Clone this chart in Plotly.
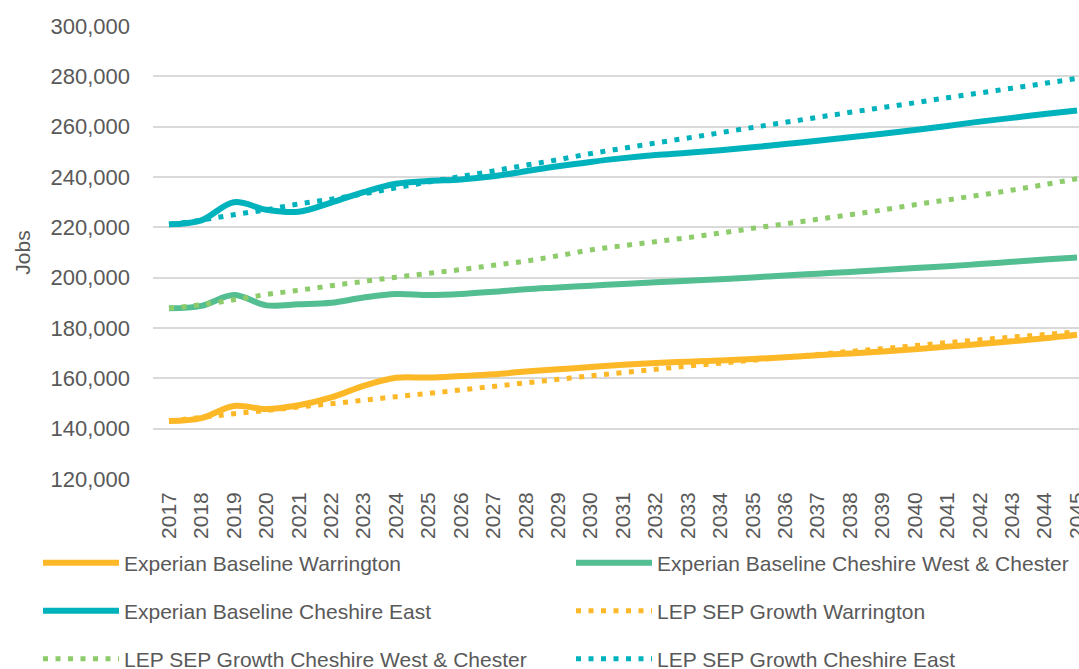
import plotly.graph_objects as go

years = list(range(2017, 2046))
year_labels = [str(y) for y in years]

eb_warrington = [143000, 144200, 149000, 147800, 149300, 152400, 157000, 160200, 160300, 160900,
                 161600, 162700, 163600, 164500, 165400, 166100, 166600, 167100, 167700, 168400,
                 169200, 169900, 170700, 171600, 172600, 173600, 174700, 175900, 177300]
eb_cwc = [187800, 188800, 193100, 189000, 189400, 190000, 192100, 193500, 193100, 193500,
          194400, 195400, 196100, 196800, 197500, 198200, 198800, 199400, 200100, 200900,
          201600, 202300, 203000, 203800, 204500, 205400, 206300, 207200, 208000]
eb_ce = [221200, 222800, 230000, 227000, 226200, 229800, 234000, 237300, 238400, 239000,
         240300, 242300, 244300, 246000, 247500, 248700, 249600, 250600, 251800, 253100,
         254400, 255800, 257200, 258700, 260300, 262000, 263500, 265000, 266400]
lep_warrington = [143000, 144500, 145900, 147200, 148600, 149900, 151300, 152700, 154000, 155400,
                  156800, 158200, 159600, 161000, 162300, 163600, 164900, 166000, 167200, 168400,
                  169500, 170700, 171800, 173000, 174200, 175300, 176400, 177400, 178400]
lep_cwc = [187800, 189300, 191200, 193300, 195000, 196800, 198500, 200200, 201700, 203200,
           204900, 206600, 208700, 211000, 212700, 214300, 215900, 217700, 219600, 221400,
           223200, 225000, 226900, 229000, 230900, 232800, 234800, 237000, 239300]
lep_ce = [221000, 222900, 225000, 227000, 229300, 231200, 233300, 235700, 238000, 240200,
          242400, 244700, 246900, 249300, 251400, 253500, 255500, 257600, 259700, 261700,
          263700, 265700, 267600, 269500, 271500, 273400, 275300, 277200, 279200]

ORANGE = "#FDB827"
GREEN = "#52BE91"
TEAL = "#00B2BC"
LGREEN = "#8DCB6B"
TXT = "#595959"
FONT = "Liberation Sans, Arial, sans-serif"

series = [
    ("Experian Baseline Warrington", eb_warrington, ORANGE, "solid"),
    ("Experian Baseline Cheshire West & Chester", eb_cwc, GREEN, "solid"),
    ("Experian Baseline Cheshire East", eb_ce, TEAL, "solid"),
    ("LEP SEP Growth Warrington", lep_warrington, ORANGE, "dot"),
    ("LEP SEP Growth Cheshire West & Chester", lep_cwc, LGREEN, "dot"),
    ("LEP SEP Growth Cheshire East", lep_ce, TEAL, "dot"),
]

PLOT_TOP, PLOT_BOT = 26, 479
PLOT_L, PLOT_W = 153, 926
PH = PLOT_BOT - PLOT_TOP

def ly(py):
    return (PLOT_BOT - py) / PH

def lx(px):
    return (px - PLOT_L) / PLOT_W

legend_ids = ["legend", "legend2", "legend3", "legend4", "legend5", "legend6"]
col_x = [38, 571]
row_y = [563, 611, 659]

fig = go.Figure()
for i, (name, vals, col, style) in enumerate(series):
    if style == "solid":
        line = dict(color=col, width=6, shape="spline", smoothing=1.0)
    else:
        line = dict(color=col, width=5, shape="spline", smoothing=1.0, dash="5px,7.5px")
    fig.add_trace(go.Scatter(x=years, y=vals, name=name, mode="lines", line=line,
                             legend=legend_ids[i], hoverinfo="skip"))

leg_layout = {}
for i, lid in enumerate(legend_ids):
    leg_layout[lid] = dict(
        orientation="h", xanchor="left", yanchor="middle",
        x=lx(col_x[i % 2]), y=ly(row_y[i // 2]),
        font=dict(family=FONT, size=21, color=TXT),
        itemwidth=76, bgcolor="rgba(0,0,0,0)", borderwidth=0,
    )

fig.update_layout(
    width=1079, height=669,
    margin=dict(l=PLOT_L, r=0, t=PLOT_TOP, b=669 - PLOT_BOT, autoexpand=False),
    paper_bgcolor="white", plot_bgcolor="white",
    font=dict(family=FONT, size=21, color=TXT),
    xaxis=dict(range=[2016.507, 2045.06], tickmode="array", tickvals=years, ticktext=year_labels,
               tickangle=-90, showgrid=False, zeroline=False, showline=False,
               ticks="", ticklabelstandoff=8, automargin=False, ticklabeloverflow="allow",
               tickfont=dict(family=FONT, size=21, color=TXT)),
    yaxis=dict(range=[120000, 300000], dtick=20000, tick0=0, tickformat=",",
               showgrid=True, gridcolor="#D9D9D9", gridwidth=1.5,
               zeroline=False, showline=False, ticks="", ticklabelstandoff=22,
               automargin=False,
               title=dict(text="Jobs", standoff=14, font=dict(family=FONT, size=21, color=TXT)),
               tickfont=dict(family=FONT, size=22, color=TXT)),
    showlegend=True,
    **leg_layout,
)

fig.write_html("out.html",
               config={"displayModeBar": False},
               post_script="document.body.style.margin='0px';document.body.style.overflow='hidden';")
